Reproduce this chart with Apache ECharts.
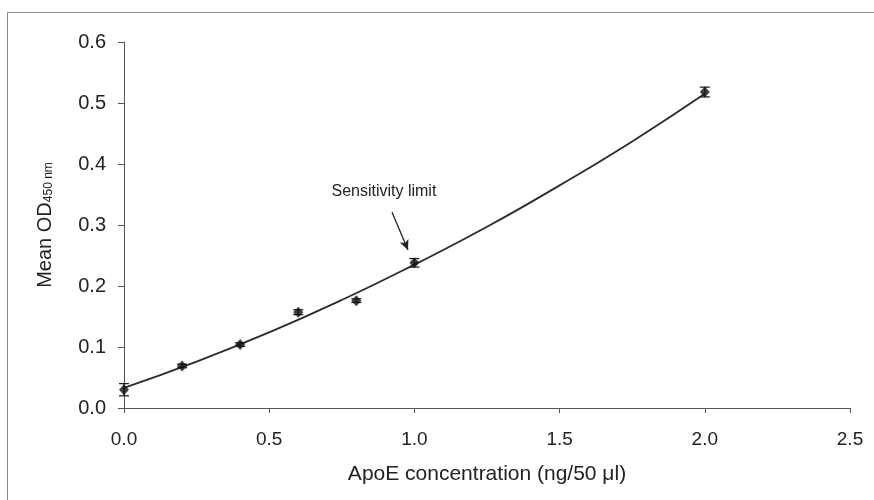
<!DOCTYPE html>
<html>
<head>
<meta charset="utf-8">
<script src="https://cdn.jsdelivr.net/npm/echarts@6/dist/echarts.min.js"></script>
<style>
  html, body { margin: 0; padding: 0; background: #fff; }
  #chart { width: 874px; height: 500px; }
</style>
</head>
<body>
<div id="chart"></div>
<script>
// 测量点 (ng/50 µl) 与平均吸光度
const concentrations = [0, 0.2, 0.4, 0.6, 0.8, 1.0, 2.0]
const meanOD = [0.030, 0.069, 0.104, 0.157, 0.176, 0.238, 0.518]
const errorOD = [0.010, 0.003, 0.003, 0.004, 0.003, 0.007, 0.008]
// 拟合曲线
const fitX = [0, 0.25, 0.5, 0.75, 1.0, 1.25, 1.5, 1.75, 2.0]
const fitY = [0.033, 0.076, 0.124, 0.177, 0.235, 0.297, 0.365, 0.437, 0.515]
// 箭头注释
const noteText = 'Sensitivity limit'
const noteFrom = [0.923, 0.321]
const noteTo = [0.978, 0.259]
const notePos = [0.895, 0.354]

const chart = echarts.init(document.getElementById('chart'))
const font = 'Liberation Sans, Arial, sans-serif'

const option = {
  animation: false,
  backgroundColor: '#fff',
  grid: { left: 124, right: 24, top: 42, bottom: 92 },
  graphic: [
    {
      type: 'rect',
      shape: { x: 7.5, y: 12.5, width: 880, height: 500 },
      style: { fill: 'none', stroke: '#8a8a8a', lineWidth: 1 },
      silent: true
    }
  ],
  xAxis: {
    type: 'value',
    min: 0, max: 2.5, interval: 0.5,
    name: 'ApoE concentration (ng/50 μl)',
    nameLocation: 'middle',
    nameGap: 56,
    nameTextStyle: { fontFamily: font, fontSize: 21, color: '#222' },
    axisLine: { onZero: false, lineStyle: { color: '#555', width: 1 } },
    axisTick: { show: true, inside: false, length: 5, lineStyle: { color: '#555' } },
    axisLabel: {
      fontFamily: font, fontSize: 19, color: '#222', margin: 22,
      formatter: v => v.toFixed(1)
    },
    splitLine: { show: false }
  },
  yAxis: {
    type: 'value',
    min: 0, max: 0.6, interval: 0.1,
    name: '{a|Mean OD}{b|450 nm}',
    nameLocation: 'middle',
    nameGap: 69,
    nameRotate: 90,
    nameTextStyle: {
      rich: {
        a: { fontFamily: font, fontSize: 20, color: '#222' },
        b: { fontFamily: font, fontSize: 12, color: '#222', padding: [7, 0, 0, 0] }
      }
    },
    axisLine: { show: true, lineStyle: { color: '#555', width: 1 } },
    axisTick: { show: true, inside: false, length: 6, lineStyle: { color: '#555' } },
    axisLabel: {
      fontFamily: font, fontSize: 20, color: '#222', margin: 18,
      formatter: v => v.toFixed(1)
    },
    splitLine: { show: false }
  },
  series: [
    {
      // 拟合曲线
      type: 'line',
      data: fitX.map((x, i) => [x, fitY[i]]),
      smooth: true,
      showSymbol: false,
      lineStyle: { color: '#2b2b2b', width: 1.8 },
      z: 2,
      silent: true
    },
    {
      // 误差线
      type: 'custom',
      data: concentrations.map((x, i) => [x, meanOD[i] - errorOD[i], meanOD[i] + errorOD[i]]),
      renderItem: (params, api) => {
        const lo = api.coord([api.value(0), api.value(1)])
        const hi = api.coord([api.value(0), api.value(2)])
        const w = 5
        const style = { stroke: '#222', lineWidth: 1.3 }
        return {
          type: 'group',
          children: [
            { type: 'line', shape: { x1: lo[0], y1: lo[1], x2: hi[0], y2: hi[1] }, style },
            { type: 'line', shape: { x1: lo[0] - w, y1: lo[1], x2: lo[0] + w, y2: lo[1] }, style },
            { type: 'line', shape: { x1: hi[0] - w, y1: hi[1], x2: hi[0] + w, y2: hi[1] }, style }
          ]
        }
      },
      z: 3,
      silent: true
    },
    {
      // 数据点
      type: 'scatter',
      data: concentrations.map((x, i) => [x, meanOD[i]]),
      symbol: 'diamond',
      symbolSize: [10, 11],
      itemStyle: { color: '#111' },
      z: 4,
      markLine: {
        silent: true,
        symbol: ['none', 'arrow'],
        symbolSize: [7, 10],
        label: { show: false },
        lineStyle: { color: '#222', width: 1.3, type: 'solid' },
        data: [[{ coord: noteFrom }, { coord: noteTo }]]
      },
      markPoint: {
        silent: true,
        symbol: 'circle',
        symbolSize: 1,
        itemStyle: { color: 'transparent' },
        label: {
          show: true,
          position: 'inside',
          formatter: noteText,
          fontFamily: font,
          fontSize: 16,
          color: '#222'
        },
        data: [{ coord: notePos }]
      }
    }
  ]
}

chart.setOption(option)
</script>
</body>
</html>
